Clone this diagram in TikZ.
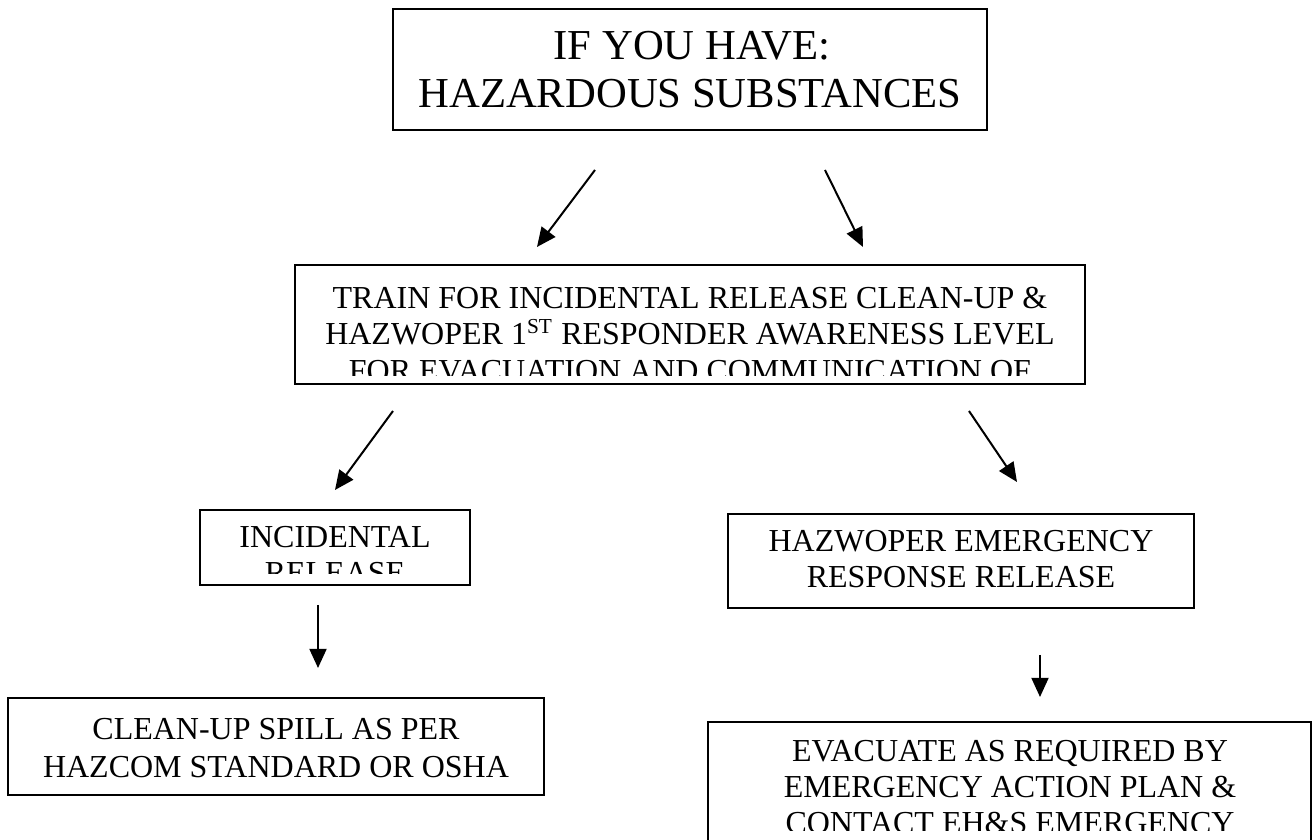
\documentclass[tikz,border=0pt]{standalone}
\usepackage{fontspec}
\setmainfont{Liberation Serif}
\usetikzlibrary{arrows.meta,calc}

\newcommand{\px}{0.375pt}

\begin{document}
\begin{tikzpicture}[x=0.375pt, y=-0.375pt,
    box/.style={draw, line width=0.75pt, inner sep=0pt},
    txt/.style={anchor=base, inner sep=0pt, font=\fontsize{12}{14}\selectfont},
    bigtxt/.style={anchor=base, inner sep=0pt, font=\fontsize{16}{19}\selectfont},
    arr/.style={-{Triangle[length=7.2pt,width=6.4pt]}, line width=0.75pt}]
    \useasboundingbox (0,0) rectangle (1313,840);
    \clip (0,0) rectangle (1313,840);

    % Top
    \node[box, minimum width=594*\px, minimum height=121*\px] (have) at (690,69.5) {};
    \node[bigtxt] (have1) at (692,60) {IF YOU HAVE:};
    \node[bigtxt] (have2) at (690,108) {HAZARDOUS SUBSTANCES};

    \coordinate (a1) at (595,170);  \coordinate (a1e) at (537,247);
    \coordinate (a2) at (825,170);  \coordinate (a2e) at (863,247);
    \draw[arr] (a1) -- (a1e);
    \draw[arr] (a2) -- (a2e);

    % Training
    \node[box, minimum width=790*\px, minimum height=119*\px] (train) at (690,324.5) {};
    \begin{scope}
        \clip (train.north west) rectangle ($(train.south east)+(0,-9)$);
        \node[txt] (train1) at (690,309) {TRAIN FOR INCIDENTAL RELEASE CLEAN-UP \&};
        \node[txt] (train2) at (690,345) {HAZWOPER 1\textsuperscript{ST} RESPONDER AWARENESS LEVEL};
        \node[txt] (train3) at (690,382) {FOR EVACUATION AND COMMUNICATION OF};
    \end{scope}

    \coordinate (b1) at (393,411);  \coordinate (b1e) at (335,490);
    \coordinate (b2) at (969,411);  \coordinate (b2e) at (1017,482);
    \draw[arr] (b1) -- (b1e);
    \draw[arr] (b2) -- (b2e);

    % Incidental release
    \node[box, minimum width=270*\px, minimum height=75*\px] (incid) at (335,547.5) {};
    \begin{scope}
        \clip (incid.north west) rectangle ($(incid.south east)+(0,-12)$);
        \node[txt] (incid1) at (335,548) {INCIDENTAL};
        \node[txt] (incid2) at (335,584) {RELEASE};
    \end{scope}

    % Emergency response release
    \node[box, minimum width=466*\px, minimum height=94*\px] (hazw) at (961,561) {};
    \node[txt] (hazw1) at (961,552) {HAZWOPER EMERGENCY};
    \node[txt] (hazw2) at (961,588) {RESPONSE RELEASE};

    \coordinate (c1) at (318,605);  \coordinate (c1e) at (318,668);
    \coordinate (c2) at (1040,655); \coordinate (c2e) at (1040,697);
    \draw[arr] (c1) -- (c1e);
    \draw[arr] (c2) -- (c2e);

    % Clean-up
    \node[box, minimum width=536*\px, minimum height=97*\px] (clean) at (276,746.5) {};
    \node[txt] (clean1) at (276,740) {CLEAN-UP SPILL AS PER};
    \node[txt] (clean2) at (276,778) {HAZCOM STANDARD OR OSHA};

    % Evacuate
    \node[box, minimum width=603*\px, minimum height=128*\px] (evac) at (1009.5,786) {};
    \begin{scope}
        \clip (evac.north west) rectangle (1313,831);
        \node[txt] (evac1) at (1010,762) {EVACUATE AS REQUIRED BY};
        \node[txt] (evac2) at (1010,798) {EMERGENCY ACTION PLAN \&};
        \node[txt] (evac3) at (1010,834) {CONTACT EH\&S EMERGENCY};
    \end{scope}
\end{tikzpicture}
\end{document}
